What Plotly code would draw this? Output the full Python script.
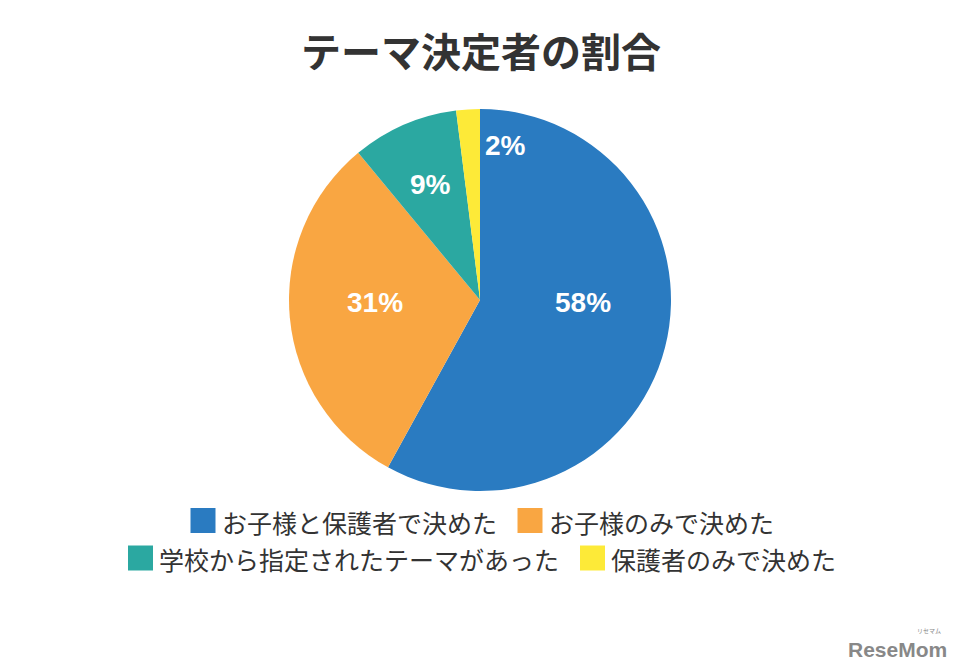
import plotly.graph_objects as go

# ---- data ----
labels = ["お子様と保護者で決めた", "お子様のみで決めた", "学校から指定されたテーマがあった", "保護者のみで決めた"]
values = [58, 31, 9, 2]
colors = ["#2a7bc1", "#f9a642", "#2ba8a1", "#fdea38"]
title_text = "テーマ決定者の割合"

# ---- layout helpers (pixels in the 963x672 window) ----
OFF = 8  # page body margin
W, H = 963 - 2 * OFF, 672 - 2 * OFF
CX, CY, R = 480, 300, 191
def px(x):
    return (x - OFF) / W
def py(y):
    return 1 - (y - OFF) / H

# percentage label positions (pixels) per slice
label_pos = [(583, 302), (375, 302), (430, 184), (505, 146)]

fig = go.Figure()
fig.add_trace(go.Pie(
    labels=labels, values=values, sort=False, direction="clockwise", rotation=0,
    marker=dict(colors=colors, line=dict(width=0)),
    textinfo="none", hoverinfo="label+percent", showlegend=False,
    domain=dict(x=[px(CX - R), px(CX + R)], y=[py(CY + R), py(CY - R)]),
))

annotations = []
shapes = []
for v, (x, y) in zip(values, label_pos):
    annotations.append(dict(
        x=px(x), y=py(y), xref="paper", yref="paper", showarrow=False,
        text=f"<b>{v}%</b>", xanchor="center", yanchor="middle",
        font=dict(family="Liberation Sans, Arial", size=28, color="white")))

# title
annotations.append(dict(
    x=px(481), y=py(50), xref="paper", yref="paper", showarrow=False,
    text=f"<b>{title_text}</b>", xanchor="center", yanchor="middle",
    font=dict(family="Noto Sans CJK JP", size=40, color="#333333")))

# manual legend
fs, sq, gap_t, gap_i = 25, 25, 5, 22
rows = [[0, 1], [2, 3]]
row_y = [520.5, 558]
for idxs, yc in zip(rows, row_y):
    widths = [sq + gap_t + len(labels[i]) * fs for i in idxs]
    total = sum(widths) + gap_i * (len(idxs) - 1)
    x0 = 481.5 - total / 2
    for i, w in zip(idxs, widths):
        shapes.append(dict(type="rect", xref="paper", yref="paper",
                           x0=px(x0), x1=px(x0 + sq), y0=py(yc - sq / 2), y1=py(yc + sq / 2),
                           fillcolor=colors[i], line=dict(width=0)))
        annotations.append(dict(
            x=px(x0 + sq + gap_t - 1), y=py(yc + 1), xref="paper", yref="paper", showarrow=False,
            text=labels[i], xanchor="left", yanchor="middle",
            font=dict(family="Noto Sans CJK JP", size=fs, color="#333333")))
        x0 += w + gap_i

# watermark
annotations.append(dict(
    x=px(949), y=py(649), xref="paper", yref="paper", showarrow=False,
    text="<b>ReseMom</b>", xanchor="right", yanchor="middle",
    font=dict(family="Liberation Sans, Arial", size=21, color="#888888")))
annotations.append(dict(
    x=px(943), y=py(630), xref="paper", yref="paper", showarrow=False,
    text="リセマム", xanchor="right", yanchor="middle",
    font=dict(family="Noto Sans CJK JP", size=6, color="#888888")))

fig.update_layout(
    width=W, height=H, margin=dict(l=0, r=0, t=0, b=0),
    paper_bgcolor="white", plot_bgcolor="white",
    annotations=annotations, shapes=shapes,
)
fig.write_html("out.html")
